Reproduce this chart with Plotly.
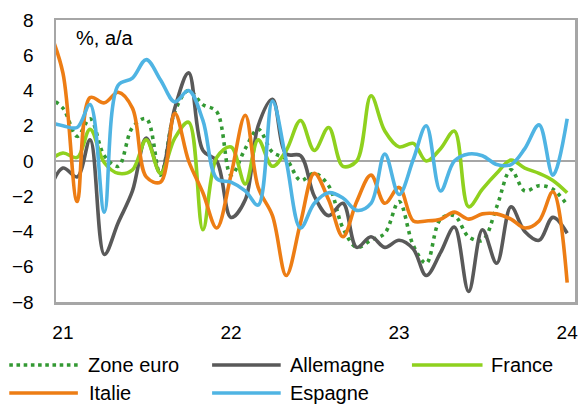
import pandas as pd
import plotly.graph_objects as go

# Monthly observations, Dec 2020 .. Jan 2024
months = pd.date_range("2020-12-01", "2024-01-01", freq="MS")

zone_euro = [3.6, 3.0, 1.4, 2.4, 0.3, -0.3, 1.9, 2.4, -0.8, 2.8, 4.0, 3.2, 2.8,
             -0.8, 0.7, 1.8, 0.5, 0.1, -1.1, -0.7, -1.4, -3.8, -4.9, -4.5, -4.1,
             -2.3, -4.8, -5.8, -3.3, -3.1, -4.3, -4.5, -2.6, -0.5, -1.7, -1.4, -1.6, -2.5]
allemagne = [-1.8, -0.4, -0.9, 1.2, -5.3, -3.5, -1.7, 1.3, -0.7, 3.0, 5.0, 0.6, 0.0,
             -3.2, -2.2, 2.0, 3.5, 0.4, 0.3, -2.0, -3.1, -2.4, -4.9, -4.3, -4.9,
             -4.5, -5.0, -6.5, -5.2, -3.75, -7.4, -3.9, -5.8, -2.6, -4.0, -4.5, -3.2, -4.1]
france = [0.0, 0.45, 0.2, 1.8, -0.1, -0.7, -0.5, 1.2, -0.7, 1.3, 2.2, -3.9, 0.2,
          0.8, -1.3, 1.2, -0.3, 0.6, 2.3, 0.6, 1.9, -0.3, 0.0, 3.7, 1.7,
          0.8, 1.0, 0.0, 0.7, 1.7, -2.6, -1.6, -0.7, 0.05, -0.4, -0.7, -1.1, -1.8]
italie = [7.5, 5.0, -2.3, 3.6, 3.3, 3.9, 3.0, -0.9, -1.2, 2.7, 0.0, -1.8, -3.8,
          -0.8, 2.6, -1.5, -3.1, -6.5, -3.5, -0.7, -2.2, -4.3, -2.3, -0.8, -2.4,
          -1.5, -3.4, -3.4, -3.3, -2.9, -3.3, -3.0, -3.0, -3.3, -3.8, -3.4, -1.75, -6.9]
espagne = [2.2, 2.0, 1.9, 3.2, -2.9, 4.3, 4.7, 5.75, 4.6, 3.35, 4.0, 2.3, -1.0,
           -1.2, -1.7, -2.5, 3.4, 0.0, -3.8, -2.4, -1.8, -2.1, -2.8, -2.4, 0.4,
           -1.9, 0.1, 2.0, -1.7, 0.0, 0.4, 0.3, -0.2, -0.2, 0.7, 2.05, -0.8, 2.4]

series_names = ["Zone euro", "Allemagne", "France", "Italie", "Espagne"]
series_values = [zone_euro, allemagne, france, italie, espagne]
series_colors = ["#339933", "#595959", "#8FD11E", "#ED7D14", "#4FB4E3"]
series_dash = ["3.5px,4.5px", "solid", "solid", "solid", "solid"]

year_ticks = ["2021-01-01", "2022-01-01", "2023-01-01", "2024-01-01"]
year_labels = ["21", "22", "23", "24"]
unit_label = "%, a/a"

W, H = 584, 405
L, R, T, B = 56, 578, 20, 302
FONT = "Liberation Sans, Arial, sans-serif"
AXIS_COLOR = "#A6A6A6"

fig = go.Figure()
for name, vals, col, dash in zip(series_names, series_values, series_colors, series_dash):
    fig.add_trace(go.Scatter(
        x=months, y=vals, name=name, mode="lines",
        line=dict(color=col, width=3.6, dash=dash, shape="spline", smoothing=1.0),
        showlegend=False, hoverinfo="skip"))

def px2x(px):
    return (px - L) / (R - L)

def py2y(py):
    return (B - py) / (B - T)

# manual legend (two rows)
legend_layout = [
    (0, 9, 78, 86, 365), (1, 213, 282, 289, 365), (2, 414, 485, 491, 365),
    (3, 9, 78, 87, 393), (4, 213, 282, 289, 393),
]
shapes = []
annotations = []
for idx, x0, x1, tx, ty in legend_layout:
    shapes.append(dict(type="line", xref="paper", yref="paper",
                       x0=px2x(x0), x1=px2x(x1), y0=py2y(ty), y1=py2y(ty),
                       line=dict(color=series_colors[idx], width=3.6,
                                 dash="dot" if idx == 0 else "solid")))
    annotations.append(dict(xref="paper", yref="paper", x=px2x(tx), y=py2y(ty),
                            text=series_names[idx], showarrow=False,
                            xanchor="left", yanchor="middle",
                            font=dict(family=FONT, size=20, color="black")))

annotations.append(dict(xref="paper", yref="paper", x=px2x(74), y=py2y(38),
                        text=unit_label, showarrow=False, xanchor="left",
                        yanchor="middle", font=dict(family=FONT, size=20, color="black")))

fig.update_layout(
    width=W, height=H,
    margin=dict(l=L, r=W - R, t=T, b=H - B, pad=0),
    paper_bgcolor="white", plot_bgcolor="white",
    font=dict(family=FONT, size=19, color="black"),
    shapes=shapes, annotations=annotations,
)
fig.update_xaxes(
    range=["2020-12-17", "2024-01-18"],
    tickvals=year_ticks, ticktext=year_labels,
    showgrid=False, zeroline=False,
    showline=True, mirror=True, linecolor=AXIS_COLOR, linewidth=2.5,
    ticks="", ticklabelstandoff=12,
    tickfont=dict(family=FONT, size=19, color="black"),
)
fig.update_yaxes(
    range=[-8, 8], dtick=2, tick0=0,
    showgrid=False, zeroline=True, zerolinecolor=AXIS_COLOR, zerolinewidth=2.5,
    showline=True, mirror=True, linecolor=AXIS_COLOR, linewidth=2.5,
    ticks="", ticklabelstandoff=16,
    tickfont=dict(family=FONT, size=19, color="black"),
)

fig.write_html(
    "out.html",
    config={"displayModeBar": False, "staticPlot": True},
    post_script="document.body.style.margin='0';document.body.style.padding='0';"
                "document.body.style.overflow='hidden';",
)
